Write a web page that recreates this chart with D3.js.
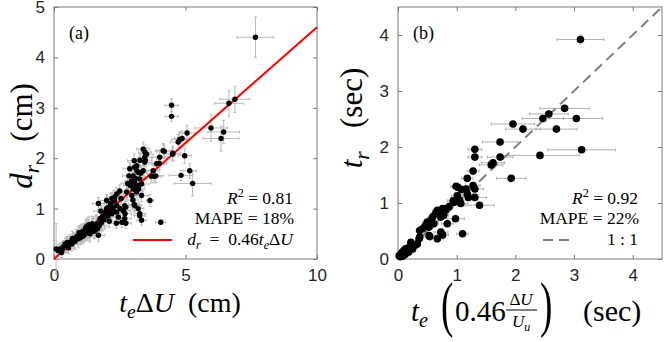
<!DOCTYPE html>
<html>
<head>
<meta charset="utf-8">
<script src="https://cdn.jsdelivr.net/npm/d3@7"></script>
<style>
  body { margin: 0; background: #fff; }
  svg text { font-family: "Liberation Serif", "Times New Roman", serif; fill: #000; }
  .tick text { font-family: "Liberation Sans", Arial, sans-serif; font-size: 17px; fill: #262626; }
  .tick line { stroke: #7a7a7a; }
</style>
</head>
<body>
<svg id="chart" width="664" height="342"></svg>
<script>
// ---- data ----
// panel (a): [t_e*dU (cm), d_r (cm), x error, y error]
var dispPts = [
  [0.08,0.20,0.10,0.50], [0.15,0.17,0.12,0.12], [0.23,0.20,0.15,0.10], [0.29,0.13,0.15,0.10],
  [0.35,0.24,0.18,0.12], [0.42,0.30,0.20,0.12], [0.48,0.27,0.20,0.14], [0.55,0.22,0.22,0.12],
  [0.61,0.34,0.25,0.15], [0.68,0.30,0.22,0.14], [0.75,0.37,0.25,0.15], [0.80,0.35,0.28,0.16],
  [0.86,0.44,0.30,0.15], [0.92,0.40,0.25,0.18], [0.99,0.47,0.30,0.16], [1.05,0.50,0.28,0.18],
  [1.10,0.45,0.30,0.15], [1.18,0.53,0.30,0.18], [1.24,0.57,0.32,0.17], [1.28,0.52,0.28,0.15],
  [1.31,0.60,0.30,0.18], [1.37,0.50,0.35,0.16], [1.40,0.58,0.30,0.15], [1.44,0.63,0.32,0.18],
  [1.50,0.67,0.30,0.17], [1.52,0.55,0.28,0.15], [1.56,0.57,0.30,0.16], [1.60,0.64,0.32,0.15],
  [1.62,0.70,0.30,0.18], [1.65,0.60,0.30,0.15], [1.69,0.47,0.25,0.12], [1.72,0.66,0.30,0.16],
  [1.75,0.80,0.28,0.15], [1.80,0.72,0.30,0.14], [1.20,0.62,0.28,0.16], [1.10,0.55,0.26,0.15],
  [0.95,0.52,0.25,0.14], [1.33,0.68,0.30,0.16], [1.45,0.70,0.28,0.15], [1.15,0.48,0.25,0.14],
  [0.70,0.41,0.22,0.14], [0.50,0.33,0.20,0.12], [0.30,0.18,0.15,0.10], [1.00,0.42,0.25,0.14],
  [1.25,0.65,0.30,0.16], [1.35,0.55,0.28,0.15],
  [1.94,0.93,0.28,0.12], [2.00,1.00,0.30,0.14], [2.07,1.03,0.28,0.12], [2.13,0.93,0.30,0.13],
  [2.20,0.90,0.30,0.12], [2.26,0.96,0.28,0.12], [2.39,1.06,0.30,0.14], [2.51,1.00,0.30,0.13],
  [2.64,0.96,0.28,0.12], [2.70,0.90,0.25,0.12], [2.45,0.83,0.28,0.12], [2.58,0.73,0.25,0.10],
  [2.00,1.16,0.25,0.12], [1.69,1.10,0.22,0.12], [2.39,1.29,0.25,0.13], [2.31,1.23,0.28,0.12],
  [2.25,1.03,0.28,0.12], [2.38,0.93,0.28,0.12], [2.69,0.80,0.25,0.10], [2.69,1.06,0.28,0.13],
  [2.63,0.96,0.26,0.12], [2.37,0.71,0.25,0.10], [2.73,0.71,0.22,0.10], [1.85,0.85,0.28,0.12],
  [1.90,0.78,0.28,0.12], [2.05,0.85,0.28,0.12], [2.15,1.10,0.28,0.13], [2.30,1.15,0.28,0.13],
  [1.78,0.95,0.26,0.12], [2.10,0.75,0.26,0.12], [2.20,1.20,0.26,0.12], [2.55,1.20,0.25,0.12],
  [2.50,1.35,0.25,0.12],
  [2.96,1.26,0.25,0.12], [3.08,1.42,0.25,0.13], [2.90,1.46,0.25,0.12], [3.21,1.39,0.25,0.13],
  [3.07,1.82,0.25,0.14], [2.88,1.79,0.25,0.13], [3.20,1.72,0.25,0.14], [3.01,1.65,0.25,0.13],
  [3.26,1.59,0.28,0.14], [3.07,1.52,0.25,0.13], [3.20,1.46,0.25,0.12], [3.01,1.39,0.25,0.12],
  [3.33,1.49,0.28,0.13], [3.14,1.33,0.25,0.12], [3.39,1.75,0.28,0.14], [3.45,1.92,0.28,0.14],
  [2.76,1.33,0.25,0.12], [3.33,1.26,0.25,0.12], [3.07,1.06,0.25,0.12], [3.20,1.00,0.22,0.12],
  [3.26,0.90,0.22,0.11], [3.33,0.77,0.20,0.10], [3.26,0.86,0.20,0.10], [3.05,1.08,0.22,0.12],
  [3.00,1.17,0.22,0.12], [2.73,1.03,0.22,0.12], [3.39,2.18,0.25,0.14], [3.52,2.08,0.25,0.13],
  [3.45,2.02,0.25,0.13], [3.46,2.12,0.25,0.14], [3.47,1.96,0.25,0.13], [3.27,1.96,0.25,0.13],
  [3.15,1.85,0.25,0.13], [2.85,1.65,0.25,0.13], [3.10,1.60,0.25,0.13], [3.30,1.70,0.25,0.13],
  [2.95,1.55,0.25,0.13], [3.15,1.75,0.25,0.13], [3.05,1.95,0.25,0.13], [2.80,1.50,0.25,0.12],
  [3.65,1.16,0.15,0.12], [3.70,1.64,0.25,0.13], [3.81,1.64,0.25,0.13], [3.77,1.75,0.25,0.13],
  [3.87,1.65,0.28,0.13], [3.90,1.89,0.28,0.14], [4.02,2.02,0.28,0.14], [4.15,2.15,0.28,0.14],
  [4.00,1.90,0.28,0.13], [4.19,2.14,0.28,0.14], [4.06,0.73,0.20,0.05], [4.47,3.05,0.25,0.13],
  [4.47,2.83,0.25,0.10], [4.52,2.10,0.30,0.14], [4.51,2.08,0.30,0.14], [4.72,2.32,0.30,0.15],
  [4.78,2.37,0.30,0.15], [4.87,2.39,0.30,0.15], [5.06,2.50,0.30,0.15], [4.97,2.05,0.25,0.15],
  [5.16,1.75,0.25,0.15], [4.83,1.66,0.45,0.10], [5.27,1.50,0.70,0.25], [5.97,2.60,0.63,0.26],
  [6.45,2.52,0.60,0.23], [6.35,2.39,0.68,0.25], [6.65,3.09,0.54,0.26], [6.88,3.17,0.57,0.26],
  [7.66,4.40,0.70,0.40]
];
var dispSlope = 0.46;
var dispTicksX = [0, 5, 10];
var dispTicksY = [0, 1, 2, 3, 4, 5];

// panel (b): [t_e*(0.46 dU/U_u) (sec), t_r (sec), x error, y error]
var timePts = [
  [3.11,3.92,0.40,0.08], [2.84,2.69,0.42,0.05], [2.57,2.59,0.33,0.05], [2.47,2.51,0.35,0.05],
  [3.04,2.51,0.45,0.05], [2.70,2.32,0.35,0.05], [2.13,2.32,0.30,0.05], [1.96,2.41,0.37,0.05],
  [3.13,1.95,0.58,0.05], [2.42,1.85,0.67,0.05], [1.74,2.09,0.30,0.05], [1.74,1.82,0.22,0.05],
  [1.62,1.72,0.20,0.05], [1.59,1.68,0.20,0.05], [1.93,1.44,0.25,0.05], [1.31,1.96,0.12,0.05],
  [1.31,1.82,0.12,0.05], [1.28,1.57,0.10,0.05], [1.18,1.44,0.10,0.05], [1.28,1.31,0.12,0.05],
  [1.31,1.25,0.15,0.05], [1.16,1.25,0.12,0.05], [1.08,1.24,0.10,0.05], [1.02,1.28,0.10,0.05],
  [0.99,1.30,0.10,0.05], [1.20,1.10,0.12,0.05], [1.31,1.10,0.20,0.05], [1.39,0.96,0.25,0.05],
  [1.05,1.05,0.12,0.05], [1.00,1.05,0.10,0.05], [0.94,1.04,0.10,0.05], [1.01,1.13,0.10,0.05],
  [1.18,1.16,0.10,0.05], [1.07,0.99,0.12,0.05], [0.95,1.01,0.10,0.05], [0.82,0.90,0.10,0.05],
  [0.77,0.84,0.10,0.05], [0.87,0.93,0.08,0.05], [0.81,0.87,0.08,0.05], [0.76,0.90,0.08,0.05],
  [0.73,0.84,0.08,0.05], [0.67,0.87,0.08,0.05], [0.64,0.81,0.08,0.05], [0.59,0.75,0.08,0.05],
  [0.56,0.69,0.07,0.05], [0.50,0.66,0.07,0.05], [0.47,0.60,0.07,0.05], [0.42,0.54,0.06,0.05],
  [0.37,0.51,0.06,0.05], [0.53,0.57,0.07,0.05], [0.61,0.63,0.08,0.05], [0.73,0.75,0.08,0.05],
  [0.78,0.78,0.08,0.05], [0.84,0.63,0.10,0.05], [0.98,0.72,0.15,0.05], [1.10,0.45,0.10,0.05],
  [0.53,0.42,0.10,0.05], [0.67,0.36,0.10,0.05], [0.73,0.48,0.12,0.05], [0.76,0.43,0.10,0.05],
  [0.54,0.40,0.08,0.05], [0.36,0.36,0.05,0.04], [0.37,0.39,0.05,0.04], [0.27,0.24,0.04,0.04],
  [0.25,0.18,0.04,0.04], [0.22,0.30,0.04,0.04], [0.19,0.21,0.04,0.04], [0.16,0.16,0.03,0.03],
  [0.13,0.18,0.03,0.03], [0.10,0.15,0.03,0.03], [0.07,0.12,0.03,0.03], [0.05,0.09,0.02,0.02],
  [0.02,0.06,0.02,0.02], [0.04,0.04,0.02,0.02], [0.30,0.25,0.04,0.04], [0.33,0.27,0.04,0.04],
  [0.12,0.08,0.03,0.03], [0.18,0.12,0.03,0.03], [0.08,0.05,0.02,0.02]
];
var timeTicks = [0, 1, 2, 3, 4];
var timeMax = 4.5;

var svg = d3.select('#chart');
var NB = '\u00a0';

// text with italic / sub / sup pieces
function mtext(sel, parts, size) {
  var t = sel.append('text').attr('font-size', size);
  var shift = 0;
  parts.forEach(function(p) {
    var kind = p[1] || '';
    var s = t.append('tspan').text(p[0]);
    var target = 0;
    if (kind.indexOf('sub') >= 0) target = 0.22 * size;
    if (kind.indexOf('sup') >= 0) target = -0.38 * size;
    if (kind.charAt(0) === 'i') s.attr('font-style', 'italic');
    if (target !== 0) s.attr('font-size', 0.7 * size);
    s.attr('dy', target - shift);
    shift = target;
  });
  return t;
}

function axes(x, y, xt, yt) {
  var g = svg.append('g');
  var x0 = x.range()[0], x1 = x.range()[1], yb = y.range()[0], yt0 = y.range()[1];
  g.append('g').attr('transform', 'translate(0,' + yb + ')')
    .call(d3.axisBottom(x).tickValues(xt).tickSizeInner(-4).tickSizeOuter(0).tickPadding(10).tickFormat(d3.format('d')));
  g.append('g').attr('transform', 'translate(0,' + yt0 + ')')
    .call(d3.axisTop(x).tickValues(xt).tickSizeInner(-4).tickSizeOuter(0).tickFormat(''));
  g.append('g').attr('transform', 'translate(' + x0 + ',0)')
    .call(d3.axisLeft(y).tickValues(yt).tickSizeInner(-4).tickSizeOuter(0).tickPadding(9).tickFormat(d3.format('d')));
  g.append('g').attr('transform', 'translate(' + x1 + ',0)')
    .call(d3.axisRight(y).tickValues(yt).tickSizeInner(-4).tickSizeOuter(0).tickFormat(''));
  g.selectAll('.domain').remove();
  g.append('rect').attr('x', x0).attr('y', yt0).attr('width', x1 - x0).attr('height', yb - yt0)
    .attr('fill', 'none').attr('stroke', '#7a7a7a').attr('stroke-width', 1);
}

function errorbars(g, pts, x, y, color, cap, width) {
  var eb = g.append('g').attr('stroke', color).attr('stroke-width', width).attr('fill', 'none');
  pts.forEach(function(d) {
    var cx = x(d[0]), cy = y(d[1]);
    var xl = x(d[0] - d[2]), xr = x(d[0] + d[2]);
    var yl = y(d[1] - d[3]), yh = y(d[1] + d[3]);
    eb.append('path').attr('d',
      'M' + xl + ',' + cy + 'H' + xr +
      'M' + xl + ',' + (cy - cap) + 'V' + (cy + cap) +
      'M' + xr + ',' + (cy - cap) + 'V' + (cy + cap) +
      'M' + cx + ',' + yl + 'V' + yh +
      'M' + (cx - cap) + ',' + yl + 'H' + (cx + cap) +
      'M' + (cx - cap) + ',' + yh + 'H' + (cx + cap));
  });
}

// ---------- panel (a) ----------
var xA = d3.scaleLinear().domain([0, 10]).range([54, 317]);
var yA = d3.scaleLinear().domain([0, 5]).range([259, 7]);
axes(xA, yA, dispTicksX, dispTicksY);

var gA = svg.append('g');
errorbars(gA, dispPts, xA, yA, '#b9b9b9', 1.5, 1);
gA.append('line')
  .attr('x1', xA(0)).attr('y1', yA(0))
  .attr('x2', xA(10)).attr('y2', yA(10 * dispSlope))
  .attr('stroke', '#ff0000').attr('stroke-width', 2);
gA.selectAll('circle').data(dispPts).join('circle')
  .attr('cx', function(d) { return xA(d[0]); })
  .attr('cy', function(d) { return yA(d[1]); })
  .attr('r', 2.7).attr('fill', '#000');

svg.append('text').attr('x', 69).attr('y', 39).attr('font-size', 18).text('(a)');
mtext(svg, [['R', 'i'], ['2', 'sup'], [' = 0.81']], 17.5).attr('x', 293).attr('y', 204).attr('text-anchor', 'end');
mtext(svg, [['MAPE = 18%']], 17.5).attr('x', 294).attr('y', 224).attr('text-anchor', 'end');
svg.append('line').attr('x1', 133).attr('x2', 172).attr('y1', 240).attr('y2', 240)
  .attr('stroke', '#ff0000').attr('stroke-width', 2);
mtext(svg, [['d', 'i'], ['r', 'isub'], ['\u2002=\u20020.46'], ['t', 'i'], ['e', 'isub'], ['Δ'], ['U', 'i']], 17.5)
  .attr('x', 293).attr('y', 245).attr('text-anchor', 'end');

mtext(svg, [['t', 'i'], ['e', 'isub'], ['Δ'], ['U', 'i'], [' ' + NB + '(cm)']], 28)
  .attr('x', 180).attr('y', 312).attr('text-anchor', 'middle');
mtext(svg, [['d', 'i'], ['r', 'isub'], [NB + NB + ' (cm)']], 31)
  .attr('text-anchor', 'middle').attr('transform', 'translate(32,136) rotate(-90)');

// ---------- panel (b) ----------
var xB = d3.scaleLinear().domain([0, timeMax]).range([398, 662]);
var yB = d3.scaleLinear().domain([0, timeMax]).range([259, 7]);
axes(xB, yB, timeTicks, timeTicks);

var gB = svg.append('g');
errorbars(gB, timePts, xB, yB, '#b0b0b0', 1.5, 1);
gB.append('line')
  .attr('x1', xB(0)).attr('y1', yB(0))
  .attr('x2', xB(timeMax)).attr('y2', yB(timeMax))
  .attr('stroke', '#808080').attr('stroke-width', 2).attr('stroke-dasharray', '10,6');
gB.selectAll('circle').data(timePts).join('circle')
  .attr('cx', function(d) { return xB(d[0]); })
  .attr('cy', function(d) { return yB(d[1]); })
  .attr('r', 3.8).attr('fill', '#000');

svg.append('text').attr('x', 413).attr('y', 39).attr('font-size', 18).text('(b)');
mtext(svg, [['R', 'i'], ['2', 'sup'], [' = 0.92']], 17.5).attr('x', 638).attr('y', 204).attr('text-anchor', 'end');
mtext(svg, [['MAPE = 22%']], 17.5).attr('x', 639).attr('y', 224).attr('text-anchor', 'end');
svg.append('line').attr('x1', 543).attr('x2', 574).attr('y1', 240).attr('y2', 240)
  .attr('stroke', '#808080').attr('stroke-width', 2).attr('stroke-dasharray', '10,6');
mtext(svg, [['1 : 1']], 17.5).attr('x', 638).attr('y', 245).attr('text-anchor', 'end');

mtext(svg, [['t', 'i'], ['r', 'isub'], [NB + NB + ' (sec)']], 31)
  .attr('text-anchor', 'middle').attr('transform', 'translate(362,118) rotate(-90)');

// x label of (b): t_e ( 0.46 dU/U_u ) (sec)
var xl = svg.append('g');
mtext(xl, [['t', 'i'], ['e', 'isub']], 29).attr('x', 411).attr('y', 321);
xl.append('text').attr('font-size', 62).attr('transform', 'translate(441,325) scale(0.6,1)').text('(');
mtext(xl, [['0.46']], 29).attr('x', 455).attr('y', 321);
mtext(xl, [['Δ'], ['U', 'i']], 17).attr('x', 521).attr('y', 305).attr('text-anchor', 'middle');
xl.append('line').attr('x1', 506).attr('x2', 537).attr('y1', 310).attr('y2', 310)
  .attr('stroke', '#000').attr('stroke-width', 1);
mtext(xl, [['U', 'i'], ['u', 'isub']], 17).attr('x', 521).attr('y', 327).attr('text-anchor', 'middle');
xl.append('text').attr('font-size', 62).attr('transform', 'translate(540,325) scale(0.6,1)').text(')');
mtext(xl, [['(sec)']], 30).attr('x', 583).attr('y', 321);
</script>
</body>
</html>
